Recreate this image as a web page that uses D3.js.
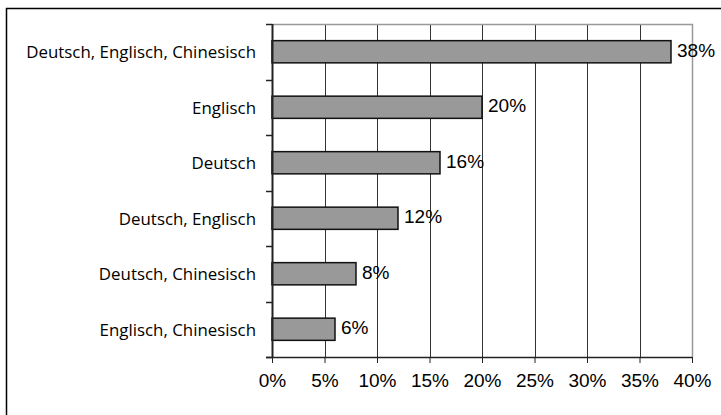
<!DOCTYPE html>
<html>
<head>
<meta charset="utf-8">
<script src="https://cdn.jsdelivr.net/npm/d3@7"></script>
<style>
    body { margin: 0; background: #fff; }
    svg { display: block; }
</style>
</head>
<body>
<svg width="721" height="415"></svg>
<script>
const categories = [
    'Deutsch, Englisch, Chinesisch',
    'Englisch',
    'Deutsch',
    'Deutsch, Englisch',
    'Deutsch, Chinesisch',
    'Englisch, Chinesisch',
];
const values = [38, 20, 16, 12, 8, 6];
const xTicks = [0, 5, 10, 15, 20, 25, 30, 35, 40];

const data = categories.map((_c, i) => ({ name: _c, value: values[i] }));

const svg = d3.select('svg');
const plot = { left: 272, top: 24, right: 692, bottom: 357 };

// outer frame
svg.append('rect')
    .attr('x', 6.5)
    .attr('y', 8.5)
    .attr('width', 720)
    .attr('height', 420)
    .attr('fill', 'none')
    .attr('stroke', '#000')
    .attr('stroke-width', 1.5);

const xScale = d3
    .scaleLinear()
    .domain([0, 40])
    .range([plot.left, plot.right]);

const yScale = d3
    .scaleBand()
    .domain(categories)
    .range([plot.top, plot.bottom])
    .paddingInner(0.6)
    .paddingOuter(0.3);

// vertical grid lines
svg.append('g')
    .selectAll('line')
    .data(xTicks.slice(1, -1))
    .join('line')
    .attr('x1', (d) => Math.round(xScale(d)) + 0.5)
    .attr('x2', (d) => Math.round(xScale(d)) + 0.5)
    .attr('y1', plot.top)
    .attr('y2', plot.bottom)
    .attr('stroke', '#333')
    .attr('stroke-width', 1);

// plot area border (top / right), gray
svg.append('path')
    .attr('d', `M${plot.left},${plot.top + 0.5}H${plot.right + 0.5}V${plot.bottom}`)
    .attr('fill', 'none')
    .attr('stroke', '#999')
    .attr('stroke-width', 1.5);

// bars
svg.append('g')
    .selectAll('rect')
    .data(data)
    .join('rect')
    .attr('x', xScale(0))
    .attr('y', (d) => yScale(d.name))
    .attr('width', (d) => xScale(d.value) - xScale(0))
    .attr('height', yScale.bandwidth())
    .attr('fill', '#999999')
    .attr('stroke', '#111')
    .attr('stroke-width', 1.5);

// x axis
const xAxis = d3
    .axisBottom(xScale)
    .tickValues(xTicks)
    .tickSize(6)
    .tickSizeOuter(0)
    .tickFormat((d) => d + '%');

const gx = svg.append('g')
    .attr('transform', `translate(0,${plot.bottom})`)
    .call(xAxis);
gx.select('.domain')
    .attr('d', `M${plot.left - 6},0.5H${plot.right}`)
    .attr('stroke', '#222')
    .attr('stroke-width', 1.5);
gx.selectAll('.tick line').attr('stroke', '#222');
gx.selectAll('.tick text')
    .attr('y', 17)
    .attr('font-family', 'Arial, "Liberation Sans", sans-serif')
    .attr('font-size', 19)
    .attr('fill', '#000');

// y axis: ticks on band boundaries
const yTickPos = d3.range(categories.length + 1).map((i) => plot.top + i * (plot.bottom - plot.top) / categories.length);
svg.append('g')
    .selectAll('line')
    .data(yTickPos)
    .join('line')
    .attr('x1', plot.left - 6)
    .attr('x2', plot.left)
    .attr('y1', (d) => Math.round(d) + 0.5)
    .attr('y2', (d) => Math.round(d) + 0.5)
    .attr('stroke', '#222')
    .attr('stroke-width', 1.5);
svg.append('line')
    .attr('x1', plot.left + 0.5)
    .attr('x2', plot.left + 0.5)
    .attr('y1', plot.top)
    .attr('y2', plot.bottom)
    .attr('stroke', '#222')
    .attr('stroke-width', 2);

// category labels, sized so the longest one is ~230px like the original
const catLabels = svg.append('g')
    .selectAll('text')
    .data(data)
    .join('text')
    .attr('x', plot.left - 16)
    .attr('y', (d) => yScale(d.name) + yScale.bandwidth() / 2 + 2)
    .attr('text-anchor', 'end')
    .attr('dominant-baseline', 'middle')
    .attr('font-family', '"Open Sans", sans-serif')
    .attr('font-size', 17)
    .attr('fill', '#000')
    .text((d) => d.name);
const longest = d3.max(catLabels.nodes(), (n) => n.getComputedTextLength());
catLabels.attr('font-size', 17 * 230 / longest);

// value labels
svg.append('g')
    .selectAll('text')
    .data(data)
    .join('text')
    .attr('x', (d) => xScale(d.value) + 6)
    .attr('y', (d) => yScale(d.name) + yScale.bandwidth() / 2)
    .attr('dominant-baseline', 'middle')
    .attr('font-family', 'Arial, "Liberation Sans", sans-serif')
    .attr('font-size', 19)
    .attr('fill', '#000')
    .text((d) => d.value + '%');
</script>
</body>
</html>
